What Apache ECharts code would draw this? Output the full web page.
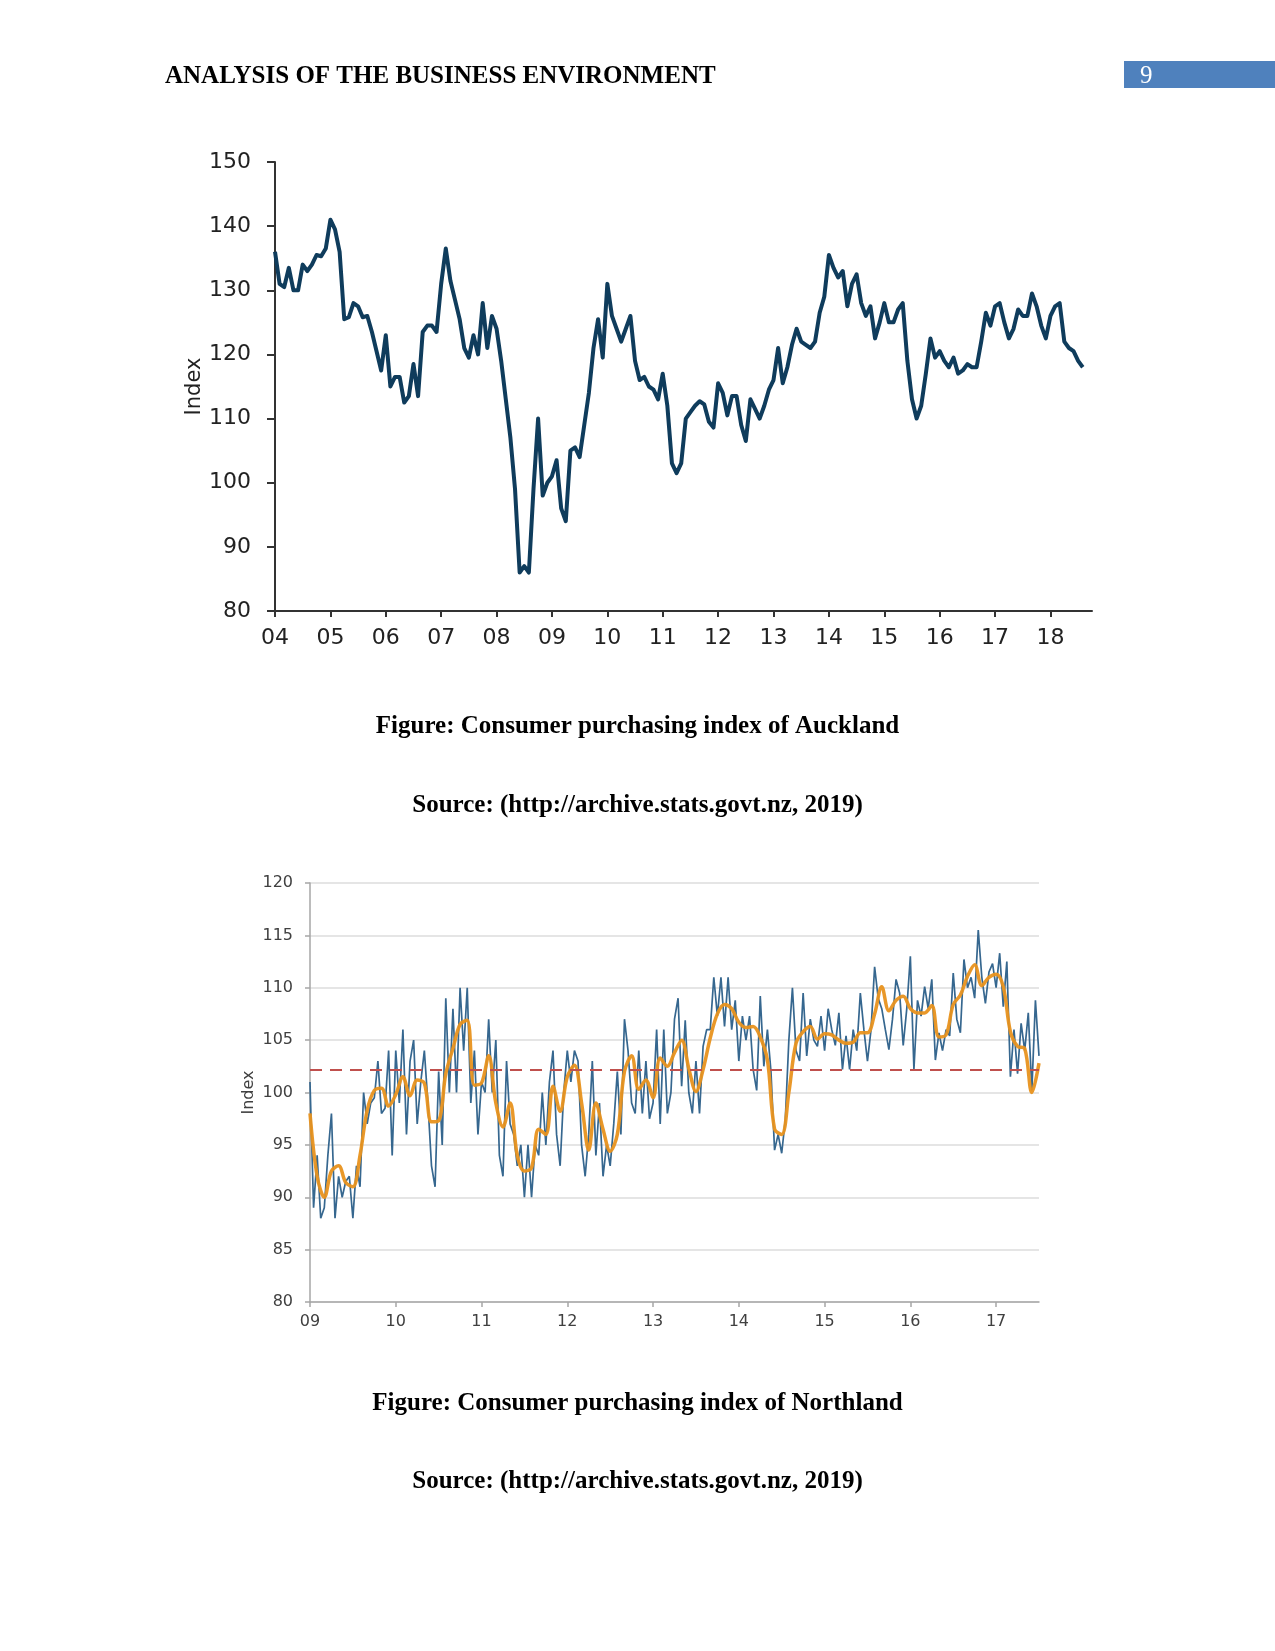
<!DOCTYPE html>
<html>
<head>
<meta charset="utf-8">
<script src="https://cdn.jsdelivr.net/npm/echarts@6/dist/echarts.min.js"></script>
<style>
html,body{margin:0;padding:0;background:#fff;}
#page{position:absolute;left:0;top:0;width:1275px;height:1651px;}
</style>
</head>
<body>
<div id="page"></div>
<script>
// ---------- Text ----------
const headerText = 'ANALYSIS OF THE BUSINESS ENVIRONMENT';
const pageNumber = '9';
const caption1 = 'Figure: Consumer purchasing index of Auckland';
const source1 = 'Source: (http://archive.stats.govt.nz, 2019)';
const caption2 = 'Figure: Consumer purchasing index of Northland';
const source2 = 'Source: (http://archive.stats.govt.nz, 2019)';

// ---------- Chart 1: Auckland (monthly, Jan 2004 - Aug 2018) ----------
const aucklandStartYear = 2004;
const aucklandPerYear = 12;
const aucklandYears = [2004,2005,2006,2007,2008,2009,2010,2011,2012,2013,2014,2015,2016,2017,2018];
const aucklandYearLabels = ['04','05','06','07','08','09','10','11','12','13','14','15','16','17','18'];
const aucklandIndex = [
  136,131,130.5,133.5,130,130,134,133,134,135.5,135.3,136.5,
  141,139.5,136,125.5,125.8,128,127.5,125.8,126,123.5,120.5,117.5,
  123,115,116.5,116.5,112.5,113.5,118.5,113.5,123.5,124.5,124.5,123.5,
  131,136.5,131.5,128.5,125.5,121,119.5,123,120,128,121,126,
  124,119,113,107,99,86,87,86,99,110,98,100,
  101,103.5,96,94,105,105.5,104,109,114,121,125.5,119.5,
  131,126,124,122,124,126,119,116,116.5,115,114.5,113,
  117,112,103,101.5,103,110,111,112,112.7,112.2,109.5,108.6,
  115.5,114,110.5,113.5,113.5,109,106.5,113,111.5,110,112,114.5,
  116,121,115.5,118,121.5,124,122,121.5,121,122,126.5,129,
  135.5,133.5,132,133,127.5,131,132.5,128,126,127.5,122.5,125,
  128,125,125,127,128,119,113,110,112,117,122.5,119.5,
  120.5,119,118,119.5,117,117.5,118.5,118,118,122,126.5,124.5,
  127.5,128,125,122.5,124,127,126,126,129.5,127.5,124.5,122.5,
  126,127.5,128,122,121,120.5,119,118
];

// ---------- Chart 2: Northland ----------
const northStartYear = 2009;
const northPerYear = 24;       // observed series
const northTrendPerYear = 12;  // trend series
const northYears = [2009,2010,2011,2012,2013,2014,2015,2016,2017];
const northYearLabels = ['09','10','11','12','13','14','15','16','17'];
const northIndex = [
  101,89,94,88,89,94,98,88,92,90,91.5,92,88,93,91,100,97,99,99.5,103,98,98.5,104,94,
  104,99,106,96,103,105,97,101,104,99,93,91,102,95,109,100,108,100,110,104,110,99,104,96,
  101,100,107,100,105,94,92,103,97,96,93,95,90,95,90,95,94,100,95,101,104,96,93,100,
  104,101,104,103,95,92,96,103,94,99,92,95,93,97,102,96,107,104,99,98,104,98,103,97.5,
  99,106,97,106,98,100,107,109,100.6,106.9,100,98,103,98,104.4,106,106,111,107.3,111,106.3,111,106,108.8,
  103,107.3,105,107.3,102.2,100.2,109.2,102.5,106,102,94.5,96,94.2,97.4,105,110,104,103,109.5,103.5,107,105,104.4,107.3,
  104,108,106,104.5,107.6,102.2,105.4,102.2,106,104,109.5,106,103,106,112,109,108,106,104.1,107,110.8,109.5,104.5,108,
  113,102.2,108.8,107.3,110.1,108,110.8,103.1,105.7,104,106,105.4,111.4,107,105.7,112.7,110,111,109,115.5,111,108.5,111.5,112.3,
  110,113.3,108.2,112.5,101.5,106,101.8,106.6,104,107.6,100.2,108.8,103.5
];
const northTrend = [
  98,92,90,92.5,93,91.4,91,94,98.3,100.2,100.4,98.7,
  99.8,101.5,99.7,101.2,100.9,97.2,97.3,101.8,104.2,106.5,106.9,100.7,
  100.9,103.5,99,96.7,99,94,92.5,92.8,96.5,96,100.6,98.2,
  101.5,102.6,99,94.5,99,96.5,94.4,96,102,103.5,100.3,101.2,
  99.5,103.3,102.5,103.8,105,102.3,100.1,102.2,105.2,107.5,108.4,108,
  106.7,106.2,106.3,105.3,103.1,96.5,96,100,104.7,105.8,106.3,105.1,
  105.6,105.5,105,104.7,104.8,105.7,105.7,107.5,110.1,107.8,108.8,109.2,
  108,107.6,107.6,108.3,105.3,105.5,108.4,109.3,111.1,112.2,110.2,111,
  111.3,110.1,105.8,104.4,104.2,100,102.8
];
const northAverage = 102.2;

// ---------- build ----------
const toPairs = (arr, start, per) => arr.map((v, i) => [start + i / per, v]);
const yearLabel = (years, labels) => (v) => {
  const idx = years.indexOf(Math.round(v));
  return (idx >= 0 && Math.abs(v - Math.round(v)) < 1e-6) ? labels[idx] : '';
};

const chart = echarts.init(document.getElementById('page'), null, {renderer: 'canvas', width: 1275, height: 1651});

const serif = '"Liberation Serif", "Times New Roman", serif';
const sans = '"DejaVu Sans", Verdana, sans-serif';

const option = {
  animation: false,
  backgroundColor: '#ffffff',
  graphic: [
    {type: 'text', left: 165, top: 64, style: {text: headerText, font: 'bold 25px ' + serif, fill: '#000'}},
    {type: 'rect', shape: {x: 1124, y: 61, width: 151, height: 27}, style: {fill: '#4f81bd'}},
    {type: 'text', left: 1140, top: 64, style: {text: pageNumber, font: '25px ' + serif, fill: '#fff'}},
    {type: 'text', left: 'center', top: 714, style: {text: caption1, font: 'bold 25px ' + serif, fill: '#000'}},
    {type: 'text', left: 'center', top: 793, style: {text: source1, font: 'bold 25px ' + serif, fill: '#000'}},
    {type: 'text', left: 'center', top: 1391, style: {text: caption2, font: 'bold 25px ' + serif, fill: '#000'}},
    {type: 'text', left: 'center', top: 1469, style: {text: source2, font: 'bold 25px ' + serif, fill: '#000'}}
  ],
  grid: [
    {left: 275, top: 162, width: 817, height: 449, containLabel: false},
    {left: 310, top: 883, width: 729, height: 419, containLabel: false}
  ],
  xAxis: [
    {
      type: 'value', gridIndex: 0, min: 2004, max: 2018.75,
      axisLine: {show: true, onZero: false, lineStyle: {color: '#333', width: 2}},
      axisTick: {show: true, customValues: aucklandYears, length: 6, lineStyle: {color: '#333', width: 2}},
      axisLabel: {customValues: aucklandYears, formatter: yearLabel(aucklandYears, aucklandYearLabels),
        fontSize: 22, fontFamily: sans, color: '#222', margin: 16},
      splitLine: {show: false}
    },
    {
      type: 'value', gridIndex: 1, min: 2009, max: 2017.5,
      axisLine: {show: true, onZero: false, lineStyle: {color: '#a6a6a6', width: 1.5}},
      axisTick: {show: true, customValues: northYears, length: 5, lineStyle: {color: '#a6a6a6', width: 1.5}},
      axisLabel: {customValues: northYears, formatter: yearLabel(northYears, northYearLabels),
        fontSize: 16, fontFamily: sans, color: '#404040', margin: 12},
      splitLine: {show: false}
    }
  ],
  yAxis: [
    {
      type: 'value', gridIndex: 0, min: 80, max: 150, interval: 10,
      name: 'Index', nameLocation: 'middle', nameGap: 70, nameMoveOverlap: false,
      nameTextStyle: {fontSize: 21, fontFamily: sans, color: '#222'},
      axisLine: {show: true, lineStyle: {color: '#333', width: 2}},
      axisTick: {show: true, length: 8, lineStyle: {color: '#333', width: 2}},
      axisLabel: {fontSize: 22, fontFamily: sans, color: '#222', margin: 24},
      splitLine: {show: false}
    },
    {
      type: 'value', gridIndex: 1, min: 80, max: 120, interval: 5,
      name: 'Index', nameLocation: 'middle', nameGap: 53, nameMoveOverlap: false,
      nameTextStyle: {fontSize: 16, fontFamily: sans, color: '#404040'},
      axisLine: {show: true, lineStyle: {color: '#a6a6a6', width: 1.5}},
      axisTick: {show: true, length: 5, lineStyle: {color: '#a6a6a6', width: 1.5}},
      axisLabel: {fontSize: 16, fontFamily: sans, color: '#404040', margin: 17},
      splitLine: {show: true, lineStyle: {color: '#dcdcdc', width: 1.5}}
    }
  ],
  series: [
    {
      name: 'Auckland', type: 'line', xAxisIndex: 0, yAxisIndex: 0,
      data: toPairs(aucklandIndex, aucklandStartYear, aucklandPerYear),
      symbol: 'none', lineStyle: {color: '#0f3c5c', width: 4, join: 'round'}
    },
    {
      name: 'Northland', type: 'line', xAxisIndex: 1, yAxisIndex: 1,
      data: toPairs(northIndex, northStartYear, northPerYear),
      symbol: 'none', lineStyle: {color: '#36678f', width: 1.7}
    },
    {
      name: 'Northland trend', type: 'line', xAxisIndex: 1, yAxisIndex: 1,
      data: toPairs(northTrend, northStartYear, northTrendPerYear),
      symbol: 'none', smooth: 0.35, lineStyle: {color: '#e8921e', width: 3.5, opacity: 0.95},
      markLine: {
        silent: true, symbol: 'none', label: {show: false},
        lineStyle: {color: '#c0504d', type: [12, 8], width: 2},
        data: [{yAxis: northAverage}]
      }
    }
  ]
};
chart.setOption(option);
</script>
</body>
</html>
